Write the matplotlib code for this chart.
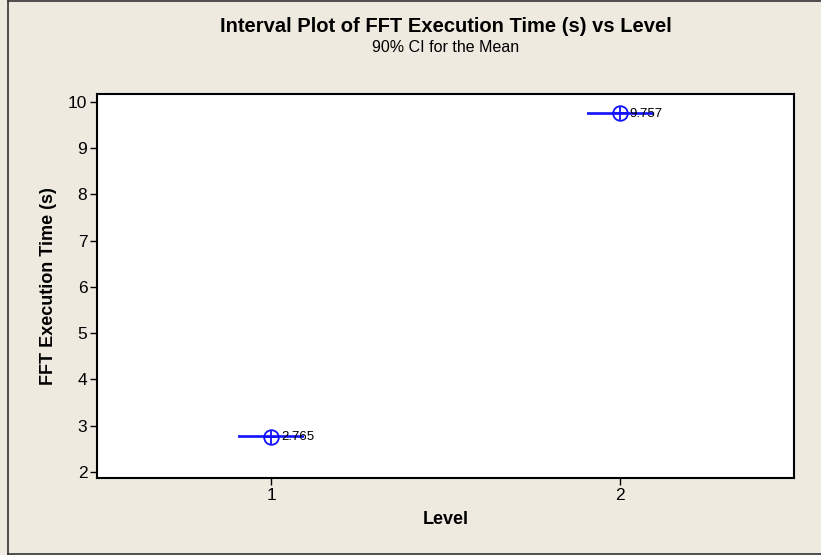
import numpy as np
import matplotlib
matplotlib.use('Agg')
import matplotlib.pyplot as plt
from matplotlib.lines import Line2D

levels = [1, 2]
means = [2.765, 9.757]
ci_half = [0.01, 0.01]
labels = ['2.765', '9.757']

BG = '#EEEAE0'
BLUE = '#1010FF'

plt.rcParams['font.family'] = ['Liberation Sans', 'DejaVu Sans']

fig = plt.figure(figsize=(8.21, 5.55), dpi=100)
fig.patch.set_facecolor(BG)
ax = fig.add_axes([97 / 821, 77 / 555, 697 / 821, 384 / 555])
ax.set_facecolor('white')

ax.errorbar(levels, means, yerr=ci_half, fmt='none', ecolor=BLUE,
            elinewidth=1.0, capsize=23.8, capthick=1.2)
ax.plot(levels, means, 'o', ms=10.5, mfc='none', mec=BLUE, mew=1.3)
ax.plot(levels, means, '+', ms=10.5, mec=BLUE, mew=1.3)
for x, y, s in zip(levels, means, labels):
    ax.annotate(s, (x, y), xytext=(7, -0.5), textcoords='offset points',
                va='center', ha='left', fontsize=9.5)

ax.set_xlim(0.5, 2.5)
ax.set_ylim(1.87, 10.17)
ax.set_xticks(levels)
ax.set_yticks(range(2, 11))
ax.tick_params(direction='out', length=5, width=1, labelsize=12.5, pad=2)
for sp in ax.spines.values():
    sp.set_linewidth(1.5)

ax.set_xlabel('Level', fontsize=13, fontweight='bold', labelpad=6)
ax.set_ylabel('FFT Execution Time (s)', fontsize=13, fontweight='bold', labelpad=8)
fig.text(446 / 821, 1 - 32 / 555, 'Interval Plot of FFT Execution Time (s) vs Level',
         ha='center', va='baseline', fontsize=14.5, fontweight='bold')
fig.text(446 / 821, 1 - 52 / 555, '90% CI for the Mean',
         ha='center', va='baseline', fontsize=11.5)

# outer frame (right edge is cut off in the reference)
fig.add_artist(Line2D([8 / 821, 8 / 821], [0.5 / 555, 1 - 1 / 555], color='#333333', lw=1.2))
fig.add_artist(Line2D([8 / 821, 1], [1 - 1 / 555, 1 - 1 / 555], color='#333333', lw=1.2))
fig.add_artist(Line2D([8 / 821, 1], [1 / 555, 1 / 555], color='#333333', lw=1.2))

fig.savefig('out.png', dpi=100, facecolor=BG)
